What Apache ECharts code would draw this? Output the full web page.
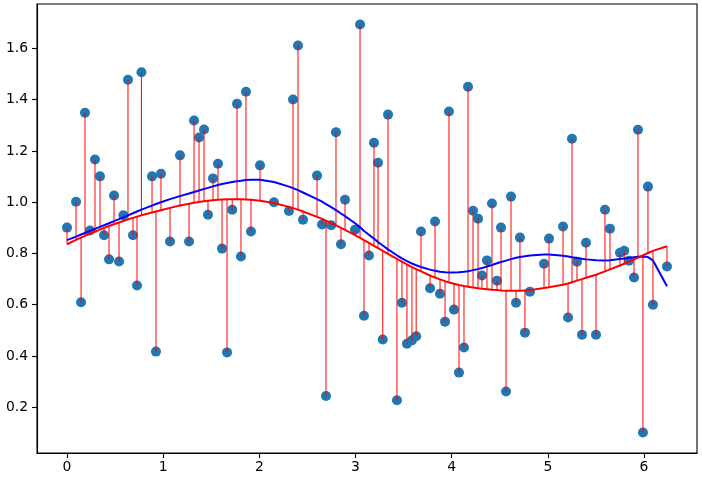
<!DOCTYPE html>
<html><head><meta charset="utf-8">
<script src="https://cdn.jsdelivr.net/npm/echarts@6/dist/echarts.min.js"></script>
<style>html,body{margin:0;padding:0;background:#fff}#c{width:702px;height:482px}</style>
</head><body><div id="c"></div>
<script>
const xs = [0.000,0.094,0.146,0.187,0.239,0.291,0.343,0.385,0.437,0.489,0.541,0.586,0.634,0.686,0.728,0.774,
0.884,0.925,0.977,1.071,1.175,1.269,1.321,1.373,1.425,1.466,1.518,1.570,1.612,1.664,1.718,1.768,1.809,1.861,1.913,
2.007,2.152,2.308,2.350,2.402,2.454,2.600,2.652,2.693,2.747,2.797,2.849,2.891,2.995,3.047,3.088,3.140,3.192,3.234,
3.283,3.338,3.431,3.483,3.535,3.587,3.631,3.681,3.775,3.827,3.879,3.931,3.972,4.024,4.076,4.128,4.170,4.222,4.274,
4.315,4.367,4.419,4.471,4.513,4.565,4.617,4.669,4.710,4.762,4.814,4.960,5.012,5.158,5.210,5.251,5.303,5.355,5.397,
5.501,5.594,5.646,5.750,5.794,5.844,5.896,5.937,5.989,6.041,6.093,6.239];
const ys = [0.901,1.002,0.610,1.349,0.890,1.167,1.101,0.871,0.777,1.026,0.769,0.949,1.478,0.871,0.675,1.507,
1.101,0.417,1.111,0.847,1.183,0.847,1.319,1.253,1.284,0.951,1.093,1.150,0.819,0.414,0.971,1.384,0.788,1.431,0.886,
1.144,1.000,0.966,1.401,1.612,0.932,1.104,0.913,0.244,0.910,1.273,0.836,1.010,0.893,1.694,0.557,0.792,1.232,1.154,
0.464,1.342,0.227,0.608,0.448,0.461,0.477,0.886,0.664,0.925,0.643,0.534,1.354,0.581,0.335,0.433,1.451,0.967,0.936,
0.714,0.773,0.995,0.694,0.901,0.261,1.022,0.608,0.862,0.491,0.651,0.760,0.858,0.905,0.550,1.248,0.768,0.483,0.842,
0.483,0.971,0.897,0.803,0.811,0.772,0.706,1.283,0.101,1.061,0.600,0.749];
const redFit = [0.836,0.853,0.862,0.869,0.877,0.885,0.893,0.900,0.907,0.914,0.921,0.927,0.933,0.939,0.944,0.949,
0.960,0.964,0.969,0.978,0.987,0.994,0.998,1.001,1.004,1.006,1.008,1.010,1.011,1.012,1.012,1.012,1.012,1.011,1.010,
1.006,0.997,0.982,0.977,0.971,0.964,0.943,0.935,0.928,0.919,0.910,0.900,0.892,0.872,0.861,0.852,0.841,0.830,0.821,
0.810,0.798,0.779,0.768,0.757,0.747,0.739,0.730,0.714,0.706,0.699,0.692,0.687,0.682,0.677,0.673,0.670,0.667,0.664,
0.662,0.660,0.658,0.657,0.656,0.655,0.655,0.655,0.655,0.656,0.657,0.665,0.668,0.678,0.683,0.688,0.694,0.700,0.705,
0.717,0.730,0.738,0.753,0.760,0.768,0.777,0.784,0.793,0.802,0.810,0.828];
const blueFit = [0.852,0.866,0.874,0.880,0.888,0.896,0.904,0.910,0.918,0.926,0.934,0.941,0.949,0.957,0.964,0.971,
0.987,0.993,1.000,1.012,1.024,1.034,1.040,1.046,1.052,1.056,1.062,1.067,1.071,1.075,1.079,1.082,1.084,1.087,1.088,
1.088,1.079,1.061,1.055,1.047,1.038,1.012,1.002,0.993,0.981,0.969,0.956,0.946,0.918,0.903,0.888,0.873,0.858,0.845,
0.831,0.816,0.793,0.781,0.770,0.761,0.754,0.747,0.737,0.733,0.729,0.727,0.726,0.726,0.727,0.729,0.731,0.735,0.739,
0.743,0.749,0.755,0.762,0.767,0.772,0.778,0.783,0.786,0.789,0.792,0.796,0.796,0.791,0.788,0.785,0.782,0.779,0.777,
0.774,0.773,0.774,0.778,0.780,0.782,0.785,0.787,0.788,0.786,0.773,0.672];
const xTicks = [0,1,2,3,4,5,6];
const yTicks = [0.2,0.4,0.6,0.8,1.0,1.2,1.4,1.6];

const pts = xs.map((x,i)=>[x, ys[i]]);
const stems = xs.map((x,i)=>[x, ys[i], redFit[i]]);
const redLine = xs.map((x,i)=>[x, redFit[i]]);
const blueLine = xs.map((x,i)=>[x, blueFit[i]]);

const font = {fontFamily:'DejaVu Sans', fontSize:13.9, color:'#000'};
const chart = echarts.init(document.getElementById('c'), null, {renderer:'canvas'});
chart.setOption({
  animation:false,
  backgroundColor:'#fff',
  grid:{left:37,right:5,top:4,bottom:29,show:true,borderColor:'#000',borderWidth:1.1,backgroundColor:'transparent'},
  xAxis:{type:'value',min:-0.312,max:6.551,
    axisLine:{show:true,onZero:false,lineStyle:{color:'#000',width:1.1}},
    splitLine:{show:false},
    axisTick:{show:true,length:5,lineStyle:{color:'#000',width:1.1},customValues:xTicks},
    axisLabel:Object.assign({margin:7,customValues:xTicks,formatter:v=>String(Math.round(v))},font)},
  yAxis:{type:'value',min:0.0213,max:1.7737,
    axisLine:{show:true,onZero:false,lineStyle:{color:'#000',width:1.1}},
    splitLine:{show:false},
    axisTick:{show:true,length:5,lineStyle:{color:'#000',width:1.1},customValues:yTicks},
    axisLabel:Object.assign({margin:9,customValues:yTicks,formatter:v=>Number(v).toFixed(1)},font)},
  series:[
    {type:'scatter',data:pts,symbolSize:10,itemStyle:{color:'#1f77b4',opacity:1},z:2},
    {type:'custom',data:stems,z:3,
      renderItem:function(params,api){
        const a=api.coord([api.value(0),api.value(1)]);
        const b=api.coord([api.value(0),api.value(2)]);
        return {type:'line',shape:{x1:a[0],y1:a[1],x2:a[0],y2:b[1]},style:{stroke:'rgba(255,0,0,0.9)',lineWidth:1.1}};
      }},
    {type:'line',data:blueLine,showSymbol:false,lineStyle:{color:'#0000ff',width:2},z:4},
    {type:'line',data:redLine,showSymbol:false,lineStyle:{color:'#ff0000',width:2},z:5}
  ]
});
</script></body></html>
